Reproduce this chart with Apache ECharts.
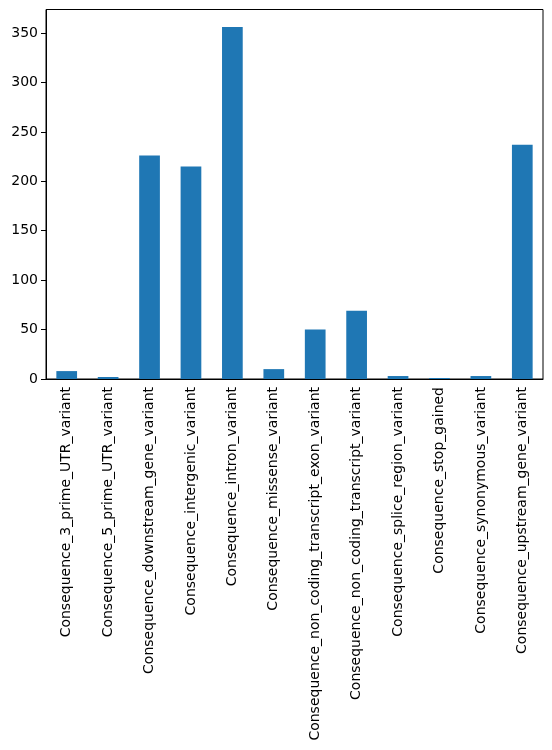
<!DOCTYPE html>
<html>
<head>
<meta charset="utf-8">
<script src="https://cdn.jsdelivr.net/npm/echarts@6/dist/echarts.min.js"></script>
<style>
  html, body { margin: 0; padding: 0; background: #fff; }
  #chart { width: 552px; height: 750px; }
</style>
</head>
<body>
<div id="chart"></div>
<script>
var categories = [
  'Consequence_3_prime_UTR_variant',
  'Consequence_5_prime_UTR_variant',
  'Consequence_downstream_gene_variant',
  'Consequence_intergenic_variant',
  'Consequence_intron_variant',
  'Consequence_missense_variant',
  'Consequence_non_coding_transcript_exon_variant',
  'Consequence_non_coding_transcript_variant',
  'Consequence_splice_region_variant',
  'Consequence_stop_gained',
  'Consequence_synonymous_variant',
  'Consequence_upstream_gene_variant'
]
var counts = [8, 2, 226, 215, 356, 10, 50, 69, 3, 1, 3, 237]

var myChart = echarts.init(document.getElementById('chart'))
var option = {
  animation: false,
  textStyle: { fontFamily: 'DejaVu Sans' },
  grid: {
    left: 46,
    right: 9,
    top: 9.5,
    bottom: 371,
    show: true,
    borderColor: '#000',
    borderWidth: 1
  },
  xAxis: {
    type: 'category',
    data: categories,
    axisLine: { lineStyle: { color: '#000', width: 1 } },
    axisTick: { alignWithLabel: true, length: 5, lineStyle: { color: '#000' } },
    axisLabel: {
      rotate: 90,
      interval: 0,
      color: '#000',
      fontSize: 14,
      margin: 8,
      fontFamily: 'DejaVu Sans'
    }
  },
  yAxis: {
    type: 'value',
    min: 0,
    max: 373.8,
    interval: 50,
    axisLine: { show: true, lineStyle: { color: '#000', width: 1 } },
    axisTick: { show: true, length: 5, lineStyle: { color: '#000' } },
    splitLine: { show: false },
    axisLabel: {
      color: '#000',
      fontSize: 14,
      margin: 8,
      fontFamily: 'DejaVu Sans',
      showMaxLabel: false
    }
  },
  series: [
    {
      type: 'bar',
      data: counts,
      barWidth: '50%',
      itemStyle: { color: '#1f77b4' }
    }
  ]
}
myChart.setOption(option)
</script>
</body>
</html>
